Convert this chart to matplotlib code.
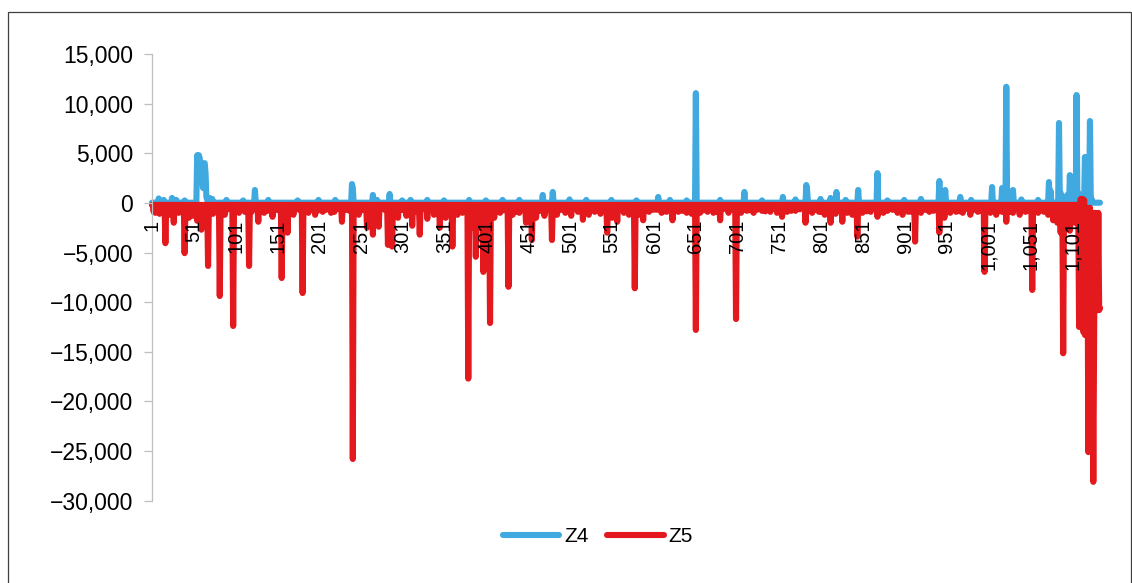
import matplotlib
matplotlib.use("Agg")
import matplotlib.pyplot as plt
from matplotlib.ticker import FuncFormatter, FixedLocator
from matplotlib.patches import Rectangle
from matplotlib.lines import Line2D
import numpy as np

plt.rcParams['font.family'] = ['Liberation Sans', 'DejaVu Sans']

# ---------------- data ----------------
n_points = 1134
z4_base = 20
z5_base = -200

z4_idx = [9, 25, 30, 55, 56, 57, 58, 59, 60, 61, 62, 63, 64, 65, 66, 67, 70, 73,
          124, 240, 241, 265, 270, 285, 330, 420, 468, 480, 550, 606, 651, 709,
          755, 783, 784, 800, 812, 819, 845, 868, 942, 949, 967, 1005, 1017, 1022,
          1030, 1073, 1075, 1085, 1087, 1090, 1095, 1098, 1100, 1103, 1106, 1108,
          1112, 1116, 1118, 1122, 1124]
z4_val = [450, 500, 300, 4800, 3000, 4800, 4500, 2000, 4000, 3800, 1500, 4000, 4000,
          3000, 600, 300, 500, 400, 1300, 1900, 1500, 800, 300, 900, 300, 300, 800,
          1100, 300, 600, 11060, 1100, 600, 1800, 1200, 400, 500, 1100, 1300, 3000,
          2200, 1300, 600, 1600, 1500, 11700, 1300, 2100, 1200, 8050, 1000, 600, 800,
          2800, 2600, 800, 10870, 1000, 600, 4630, 1000, 8250, 400]

# small bumps of Z4 (texture above the red band)
z4_minor_idx = [15, 40, 90, 110, 140, 175, 200, 220, 300, 310, 350, 380, 400, 440,
                500, 520, 580, 620, 640, 680, 730, 770, 830, 880, 900, 920, 980, 1040,
                1060]
z4_minor_val = [300, 250, 300, 250, 300, 250, 300, 300, 250, 300, 250, 300, 250, 300,
                350, 300, 250, 300, 250, 300, 250, 350, 300, 250, 300, 400, 300, 350,
                300]

# large dips of Z5
z5_idx = [3, 5, 10, 17, 22, 27, 33, 40, 45, 50, 55, 60, 62, 68, 74, 82, 88, 98, 105,
          112, 117, 128, 135, 145, 156, 163, 170, 181, 188, 196, 205, 215, 228, 241,
          248, 258, 265, 272, 283, 288, 295, 305, 312, 321, 330, 338, 345, 352, 360,
          366, 372, 379, 383, 388, 393, 397, 401, 405, 410, 417, 427, 432, 440, 448,
          455, 460, 470, 479, 485, 495, 502, 510, 516, 523, 530, 537, 545, 551, 557,
          565, 571, 578, 583, 588, 595, 600, 610, 616, 623, 630, 640, 646, 651, 656,
          665, 672, 680, 690, 699, 705, 712, 720, 730, 740, 748, 754, 760, 770, 782,
          790, 798, 805, 812, 818, 826, 832, 838, 844, 850, 860, 868, 875, 886, 892,
          898, 905, 913, 920, 930, 942, 948, 955, 962, 970, 979, 988, 996, 1003, 1010,
          1017, 1022, 1030, 1038, 1045, 1053, 1060, 1067, 1072, 1078, 1083, 1087, 1090,
          1094, 1098, 1100, 1104, 1109, 1111, 1113, 1114, 1115, 1116, 1117, 1118, 1119,
          1120, 1121, 1122, 1123, 1124, 1125, 1126, 1127, 1128, 1129, 1130, 1131, 1132,
          1133, 1134]
z5_val = [-900, -1000, -1100, -4060, -1200, -2000, -1000, -5060, -1500, -1300, -1800,
          -2700, -1200, -6350, -1100, -9380, -1200, -12400, -1000, -900, -6350, -1900,
          -1000, -1400, -7570, -3000, -1200, -9080, -1000, -1200, -900, -1000, -1900,
          -25800, -1200, -2500, -3200, -2400, -4230, -4400, -1500, -1300, -2300, -3200,
          -1600, -1200, -2500, -1500, -4400, -1200, -1000, -17700, -2500, -5430, -2500,
          -6950, -2000, -12100, -1500, -1000, -8450, -1200, -1000, -2000, -3740, -1500,
          -1300, -3740, -1200, -1000, -1300, -900, -1700, -1200, -900, -1100, -3000,
          -1500, -1900, -1000, -1200, -8600, -1200, -1750, -900, -700, -1000, -900,
          -1750, -900, -1000, -1100, -12800, -1000, -900, -1000, -1750, -1000, -11700,
          -1000, -800, -1000, -800, -900, -1000, -1400, -900, -800, -2000, -1000, -900,
          -1200, -2000, -1100, -1900, -1000, -1200, -3400, -1000, -900, -1400, -1000,
          -700, -1000, -1200, -900, -3900, -1000, -900, -3000, -1500, -1000, -900,
          -1000, -1200, -900, -6950, -1000, -1200, -900, -1900, -1000, -1200, -900,
          -8770, -1000, -900, -1200, -1750, -2000, -3000, -15150, -1500, -2800, -1500,
          -2000, -12500, 400, 400, -13000, 300, -13300, -1000, -13300, -500, -25100,
          -13300, -500, -13300, -1000, -13300, -28100, -13000, -1000, -10800,
          -2000, -10800, -1000, -10800, -10600]

# small dips of Z5 (texture of the band)
z5_minor_idx = [7, 13, 20, 30, 36, 43, 48, 52, 65, 71, 77, 85, 92, 101, 108, 120, 124,
                131, 139, 149, 152, 159, 166, 174, 177, 184, 192, 200, 209, 219, 223,
                233, 237, 244, 252, 262, 268, 276, 279, 291, 299, 302, 308, 316, 325,
                334, 341, 349, 356, 363, 369, 375, 386, 391, 413, 421, 424, 436, 444,
                452, 465, 475, 482, 490, 499, 506, 513, 520, 527, 533, 541, 548, 554,
                561, 568, 575, 591, 604, 613, 620, 627, 635, 643, 660, 668, 676, 685,
                694, 702, 709, 716, 724, 734, 744, 751, 765, 775, 786, 794, 801, 809,
                815, 822, 829, 841, 847, 855, 864, 871, 880, 889, 895, 901, 909, 916,
                925, 935, 939, 951, 959, 966, 974, 983, 992, 999, 1006, 1013, 1026,
                1034, 1042, 1049, 1056, 1063, 1070, 1075, 1081]
z5_minor_val = [-700, -650, -800, -600, -750, -900, -650, -700, -850, -600, -700, -800,
                -650, -750, -700, -900, -600, -700, -800, -650, -750, -700, -850, -600,
                -700, -800, -650, -750, -700, -900, -600, -700, -800, -650, -750, -700,
                -850, -600, -700, -800, -650, -750, -700, -900, -600, -700, -800, -650,
                -750, -700, -850, -600, -700, -800, -650, -750, -700, -900, -600, -700,
                -800, -650, -750, -700, -850, -600, -700, -800, -650, -750, -700, -900,
                -600, -700, -800, -650, -750, -700, -850, -600, -700, -800, -650, -750,
                -700, -900, -600, -700, -800, -650, -750, -700, -850, -600, -700, -800,
                -650, -750, -700, -900, -600, -700, -800, -650, -750, -700, -850, -600,
                -700, -800, -650, -750, -700, -900, -600, -700, -800, -650, -750, -700,
                -850, -600, -700, -800, -650, -750, -700, -900, -600, -700, -800, -650,
                -750, -700, -850, -600, -700, -800, -650, -750]

x_tick_values = list(range(1, 1102, 50))
y_tick_values = list(range(-30000, 15001, 5000))

# ---------------- build series ----------------
x = np.arange(1, n_points + 1)
z4 = np.full(n_points, float(z4_base))
z4[np.array(z4_minor_idx) - 1] = z4_minor_val
z4[np.array(z4_idx) - 1] = z4_val
z5 = np.full(n_points, float(z5_base))
z5[np.array(z5_minor_idx) - 1] = z5_minor_val[:len(z5_minor_idx)]
z5[np.array(z5_idx) - 1] = z5_val

blue = '#3FA9E0'
red = '#E3191E'
lw = 4.4

W, H = 1132, 583
fig = plt.figure(figsize=(W / 100, H / 100), dpi=100)
ax = fig.add_axes([152 / W, 1 - 500.7 / H, (1100 - 152) / W, (500.7 - 54) / H])

ax.plot(x, z4, color=blue, lw=lw, solid_joinstyle='round', solid_capstyle='round',
        clip_on=False, zorder=2)
ax.plot(x, z5, color=red, lw=lw, solid_joinstyle='round', solid_capstyle='round',
        clip_on=False, zorder=2.1)

ax.set_xlim(1, n_points)
ax.set_ylim(-30000, 15000)
ax.set_axisbelow(False)

ax.yaxis.set_major_locator(FixedLocator(y_tick_values))
ax.yaxis.set_major_formatter(FuncFormatter(
    lambda v, p: ('\u2212' if v < 0 else '') + f"{abs(int(v)):,}"))
ax.xaxis.set_major_locator(FixedLocator(x_tick_values))
ax.xaxis.set_major_formatter(FuncFormatter(lambda v, p: f"{int(v):,}"))

for s in ['top', 'right']:
    ax.spines[s].set_visible(False)
ax.spines['left'].set_color('#BFBFBF')
ax.spines['left'].set_linewidth(0.9)
ax.spines['bottom'].set_position(('data', 0))
ax.spines['bottom'].set_color('#BFBFBF')
ax.spines['bottom'].set_linewidth(0.9)
ax.spines['bottom'].set_zorder(1.5)

ax.tick_params(axis='y', direction='out', length=5.5, width=0.9, color='#BFBFBF',
               labelsize=16.5, pad=8, labelcolor='black')
ax.tick_params(axis='x', length=0, labelsize=14.5, pad=12, labelrotation=90,
               labelcolor='black')

handles = [Line2D([], [], color=blue, lw=lw, solid_capstyle='round'),
           Line2D([], [], color=red, lw=lw, solid_capstyle='round')]
fig.legend(handles, ['Z4', 'Z5'], loc='center', bbox_to_anchor=(598 / W, 1 - 537 / H),
           ncol=2, frameon=False, fontsize=15, handlelength=2.7, handletextpad=0.25,
           columnspacing=0.9)

fig.patches.append(Rectangle((8 / W, -0.02), (1130.5 - 8) / W, 1.02 - 12 / H,
                             transform=fig.transFigure, fill=False,
                             edgecolor='#404040', lw=0.9))

fig.savefig('out.png', dpi=100)
